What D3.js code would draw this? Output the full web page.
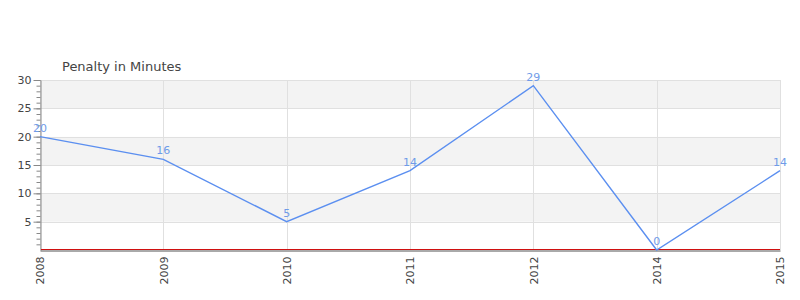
<!DOCTYPE html>
<html>
<head>
<meta charset="utf-8">
<script src="https://cdn.jsdelivr.net/npm/d3@7"></script>
<style>
body { margin:0; background:#fff; }
svg text { font-family: "DejaVu Sans", sans-serif; }
</style>
</head>
<body>
<div id="chart"></div>
<script>
var years = ['2008','2009','2010','2011','2012','2014','2015'];
var penalty = [20, 16, 5, 14, 29, 0, 14];
var yTicks = [5, 10, 15, 20, 25, 30];
var title = 'Penalty in Minutes';

var W = 800, H = 300;
// careful: "top" is taken by window.top
var pLeft = 40, pRight = 780, pTop = 80, pBottom = 250;

var svg = d3.select('#chart').append('svg')
    .attr('width', W).attr('height', H)

var x = d3.scalePoint().domain(years).range([pLeft, pRight])
var y = d3.scaleLinear().domain([0, 30]).range([pBottom, pTop])

// alternating bands
var bands = d3.range(0, 30, 5)
svg.selectAll('rect.band')
    .data(bands)
    .enter()
    .append('rect')
    .attr('x', pLeft)
    .attr('width', pRight - pLeft)
    .attr('y', function(d){ return y(d + 5); })
    .attr('height', function(d){ return y(d) - y(d + 5); })
    .attr('fill', function(d){ return (d / 5) % 2 == 1 ? '#f3f3f3' : '#fff'; })

// horizontal grid
svg.selectAll('line.hgrid')
    .data(yTicks)
    .enter()
    .append('line')
    .attr('x1', pLeft).attr('x2', pRight)
    .attr('y1', function(d){ return Math.round(y(d)) + 0.5; })
    .attr('y2', function(d){ return Math.round(y(d)) + 0.5; })
    .attr('stroke', '#e0e0e0')

// vertical grid
svg.selectAll('line.vgrid')
    .data(years)
    .enter()
    .append('line')
    .attr('x1', function(d){ return Math.round(x(d)) + 0.5; })
    .attr('x2', function(d){ return Math.round(x(d)) + 0.5; })
    .attr('y1', pTop).attr('y2', pBottom)
    .attr('stroke', '#e0e0e0')

// y axis with minor ticks
var minor = svg.append('g')
    .attr('transform', 'translate(' + (pLeft + 0.5) + ',0)')
    .call(d3.axisLeft(y).tickValues(d3.range(1, 31)).tickSize(4).tickFormat(''))
minor.select('.domain').remove()
minor.selectAll('line').attr('stroke', '#888')

var yAxis = svg.append('g')
    .attr('transform', 'translate(' + (pLeft + 0.5) + ',0)')
    .call(d3.axisLeft(y).tickValues(yTicks).tickSize(7).tickPadding(2).tickSizeOuter(0))
yAxis.select('.domain').attr('stroke', '#888')
yAxis.selectAll('line').attr('stroke', '#888')
yAxis.selectAll('text').attr('fill', '#444').style('font-size', '11px')

// x axis
var xAxis = svg.append('g')
    .attr('transform', 'translate(0,' + (pBottom + 0.5) + ')')
    .call(d3.axisBottom(x).tickSize(0).tickSizeOuter(0))
xAxis.select('.domain').attr('stroke', '#555').attr('stroke-width', 1)
xAxis.selectAll('text')
    .attr('fill', '#444')
    .style('font-size', '11px')
    .attr('transform', 'rotate(-90)')
    .attr('text-anchor', 'end')
    .attr('x', -6)
    .attr('y', 0)
    .attr('dy', '0.35em')

// zero line
svg.append('line')
    .attr('x1', pLeft + 1).attr('x2', pRight)
    .attr('y1', y(0) - 0.5).attr('y2', y(0) - 0.5)
    .attr('stroke', '#d01010')

// the line
var line = d3.line()
    .x(function(d, i){ return x(years[i]); })
    .y(function(d){ return y(d); })

svg.append('path')
    .datum(penalty)
    .attr('d', line)
    .attr('fill', 'none')
    .attr('stroke', '#5b8ff0')
    .attr('stroke-width', 1.4)

svg.selectAll('text.val')
    .data(penalty)
    .enter()
    .append('text')
    .attr('x', function(d, i){ return x(years[i]); })
    .attr('y', function(d){ return y(d) - 5; })
    .attr('text-anchor', 'middle')
    .attr('fill', '#6f9be8')
    .style('font-size', '11px')
    .text(function(d){ return d; })

svg.append('text')
    .attr('x', 62).attr('y', 71)
    .attr('fill', '#444')
    .style('font-size', '13px')
    .text(title)
</script>
</body>
</html>
